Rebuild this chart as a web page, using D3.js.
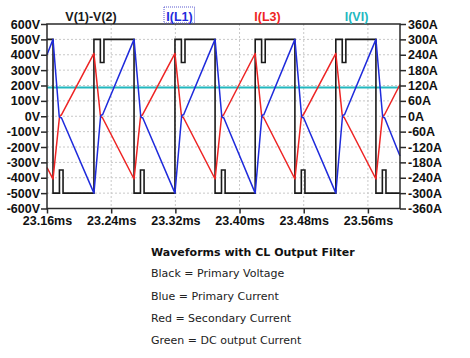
<!DOCTYPE html>
<html>
<head>
<meta charset="utf-8">
<script src="https://cdn.jsdelivr.net/npm/d3@7"></script>
<style>
  html, body { margin: 0; padding: 0; background: #ffffff; }
  svg { display: block; }
</style>
</head>
<body>
<svg id="chart" width="470" height="358"></svg>
<script>
// ---------- DATA ----------
const xTicks = [23.16, 23.24, 23.32, 23.40, 23.48, 23.56];
const voltTicks = [600, 500, 400, 300, 200, 100, 0, -100, -200, -300, -400, -500, -600];
const ampTicks = [360, 300, 240, 180, 120, 60, 0, -60, -120, -180, -240, -300, -360];

const traceNames = ["V(1)-V(2)", "I(L1)", "I(L3)", "I(VI)"];
const noteTitle = "Waveforms with CL Output Filter";
const noteLines = ["Black = Primary Voltage", "Blue = Primary Current", "Red = Secondary Current", "Green = DC output Current"];

// V(1)-V(2) [ms, V]
const primaryVoltage = [
  [23.1600, 500], [23.1675, 500], [23.1675, -500], [23.1755, -500], [23.1755, -350], [23.1800, -350], [23.1800, -500],
  [23.2185, -500], [23.2185, 500], [23.2265, 500], [23.2265, 350], [23.2310, 350], [23.2310, 500],
  [23.2685, 500], [23.2685, -500], [23.2765, -500], [23.2765, -350], [23.2810, -350], [23.2810, -500],
  [23.3195, -500], [23.3195, 500], [23.3275, 500], [23.3275, 350], [23.3320, 350], [23.3320, 500],
  [23.3695, 500], [23.3695, -500], [23.3775, -500], [23.3775, -350], [23.3820, -350], [23.3820, -500],
  [23.4195, -500], [23.4195, 500], [23.4275, 500], [23.4275, 350], [23.4320, 350], [23.4320, 500],
  [23.4690, 500], [23.4690, -500], [23.4770, -500], [23.4770, -350], [23.4815, -350], [23.4815, -500],
  [23.5200, -500], [23.5200, 500], [23.5280, 500], [23.5280, 350], [23.5325, 350], [23.5325, 500],
  [23.5700, 500], [23.5700, -500], [23.5780, -500], [23.5780, -350], [23.5825, -350], [23.5825, -500],
  [23.6000, -500]
];

// I(L1) [ms, A]
const primaryCurrent = [
  [23.1600, 240], [23.1675, 300], [23.1752, 0], [23.1762, -5], [23.1780, -6],
  [23.2185, -300], [23.2268, 0], [23.2278, 5], [23.2293, 6],
  [23.2685, 300], [23.2768, 0], [23.2778, -5], [23.2793, -6],
  [23.3195, -300], [23.3278, 0], [23.3288, 5], [23.3303, 6],
  [23.3695, 300], [23.3778, 0], [23.3788, -5], [23.3803, -6],
  [23.4195, -300], [23.4278, 0], [23.4288, 5], [23.4303, 6],
  [23.4690, 300], [23.4773, 0], [23.4783, -5], [23.4798, -6],
  [23.5200, -300], [23.5283, 0], [23.5293, 5], [23.5308, 6],
  [23.5700, 300], [23.5783, 0], [23.5793, -5], [23.5808, -6],
  [23.6000, -155]
];

// I(L3) [ms, A]
const secondaryCurrent = [
  [23.1600, -200], [23.1675, -245], [23.1755, -4], [23.1765, 3], [23.1780, 5],
  [23.2185, 245], [23.2265, 4], [23.2275, -3], [23.2290, -5],
  [23.2685, -245], [23.2765, -4], [23.2775, 3], [23.2790, 5],
  [23.3195, 245], [23.3275, 4], [23.3285, -3], [23.3300, -5],
  [23.3695, -245], [23.3775, -4], [23.3785, 3], [23.3800, 5],
  [23.4195, 245], [23.4275, 4], [23.4285, -3], [23.4300, -5],
  [23.4690, -245], [23.4770, -4], [23.4780, 3], [23.4795, 5],
  [23.5200, 245], [23.5280, 4], [23.5290, -3], [23.5305, -5],
  [23.5700, -245], [23.5780, -4], [23.5790, 3], [23.5805, 5],
  [23.6000, 124]
];

// I(VI) [ms, A]
const dcCurrent = [[23.1600, 112], [23.6000, 112]];

// ---------- LAYOUT ----------
const svg = d3.select("#chart");
const L = 47, R = 400, T = 24, B = 208.5;
const axisFont = "'Liberation Sans', Arial, sans-serif";

const x = d3.scaleLinear().domain([23.16, 23.60]).range([L, R]);
const yV = d3.scaleLinear().domain([-600, 600]).range([B, T]);
const yA = d3.scaleLinear().domain([-360, 360]).range([B, T]);

const colors = { black: "#1a1a1a", blue: "#1f2bdc", red: "#ee2424", cyan: "#22b8bf" };

// grid
const grid = svg.append("g").attr("stroke", "#c8c8c8").attr("stroke-width", 1).attr("stroke-dasharray", "2,2");
grid.selectAll("line.h").data(voltTicks.slice(1, -1)).join("line")
  .attr("x1", L).attr("x2", R).attr("y1", d => yV(d)).attr("y2", d => yV(d));
grid.selectAll("line.v").data(xTicks.slice(1)).join("line")
  .attr("x1", d => x(d)).attr("x2", d => x(d)).attr("y1", T).attr("y2", B);

// traces
const plot = svg.append("g");
const lineV = d3.line().x(d => x(d[0])).y(d => yV(d[1]));
const lineA = d3.line().x(d => x(d[0])).y(d => yA(d[1]));

plot.append("path").datum(dcCurrent).attr("d", lineA)
  .attr("fill", "none").attr("stroke", colors.cyan).attr("stroke-width", 2);
plot.append("path").datum(primaryVoltage).attr("d", lineV)
  .attr("fill", "none").attr("stroke", colors.black).attr("stroke-width", 1.6);
plot.append("path").datum(secondaryCurrent).attr("d", lineA)
  .attr("fill", "none").attr("stroke", colors.red).attr("stroke-width", 1.5).attr("stroke-linejoin", "round");
plot.append("path").datum(primaryCurrent).attr("d", lineA)
  .attr("fill", "none").attr("stroke", colors.blue).attr("stroke-width", 1.5).attr("stroke-linejoin", "round");

// frame
svg.append("rect").attr("x", L).attr("y", T).attr("width", R - L).attr("height", B - T)
  .attr("fill", "none").attr("stroke", "#2a2a2a").attr("stroke-width", 1.5);

// axes
function styleAxis(g) {
  g.select(".domain").remove();
  g.selectAll(".tick line").attr("stroke", "#2a2a2a").attr("stroke-width", 1.5);
  g.selectAll(".tick text").attr("fill", "#111").attr("font-family", axisFont)
    .attr("font-weight", "bold").attr("font-size", "12.5px");
}
svg.append("g").attr("transform", `translate(${L},0)`)
  .call(d3.axisLeft(yV).tickValues(voltTicks).tickFormat(d => d + "V").tickSize(6).tickPadding(1))
  .call(styleAxis);
svg.append("g").attr("transform", `translate(${R},0)`)
  .call(d3.axisRight(yA).tickValues(ampTicks).tickFormat(d => d + "A").tickSize(6).tickPadding(2))
  .call(styleAxis);
svg.append("g").attr("transform", `translate(0,${B})`)
  .call(d3.axisBottom(x).tickValues(xTicks).tickFormat(d => d.toFixed(2) + "ms").tickSize(5).tickPadding(3))
  .call(styleAxis);

// trace names
const nameX = [91, 179.5, 267.5, 356.5];
const nameColor = [colors.black, colors.blue, colors.red, colors.cyan];
svg.append("rect").attr("x", 164).attr("y", 7).attr("width", 30.5).attr("height", 16)
  .attr("fill", "none").attr("stroke", "#5a5ad0").attr("stroke-width", 1).attr("stroke-dasharray", "1,1");
svg.selectAll("text.name").data(traceNames).join("text")
  .attr("class", "name")
  .attr("x", (d, i) => nameX[i]).attr("y", 20.5)
  .attr("text-anchor", "middle")
  .attr("font-family", axisFont).attr("font-weight", "bold").attr("font-size", "12.5px")
  .attr("fill", (d, i) => nameColor[i])
  .text(d => d);

// notes
const noteFont = "'DejaVu Sans', Verdana, sans-serif";
svg.append("text").attr("x", 151).attr("y", 256)
  .attr("font-family", noteFont).attr("font-weight", "bold").attr("font-size", "11px")
  .attr("fill", "#111").text(noteTitle);
const noteY = [277, 299.5, 321.5, 344];
svg.selectAll("text.note").data(noteLines).join("text")
  .attr("class", "note")
  .attr("x", 151).attr("y", (d, i) => noteY[i])
  .attr("font-family", noteFont).attr("font-size", "11px")
  .attr("fill", "#222").text(d => d);
</script>
</body>
</html>
